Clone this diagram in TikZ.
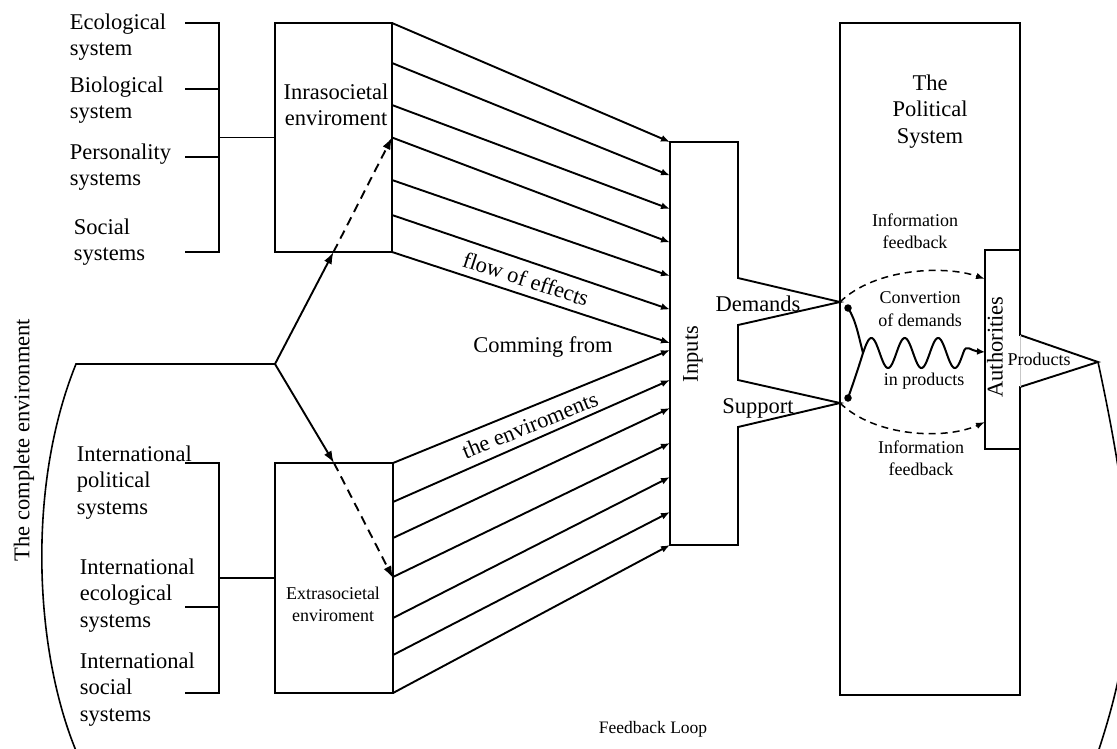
\documentclass[tikz,border=0pt]{standalone}
\usepackage{fontspec}
\setmainfont{Liberation Serif}
\usetikzlibrary{arrows.meta,calc}
\begin{document}
\begin{tikzpicture}[x=1pt,y=-1pt,
  line width=1.9pt,
  box/.style={draw, rectangle, inner sep=0pt, outer sep=0pt},
  frame/.style={rectangle, inner sep=0pt, outer sep=0pt},
  big/.style={font=\fontsize{22.5}{26.5}\selectfont, inner sep=0pt},
  small/.style={font=\fontsize{18}{22.5}\selectfont, inner sep=0pt},
  tiny/.style={font=\fontsize{17.5}{21}\selectfont, inner sep=0pt},
  flow/.style={-{Latex[length=9pt,width=7pt]}},
  push/.style={-{Latex[length=12pt,width=8.5pt]}},
  hint/.style={push, dash pattern=on 9pt off 6pt},
  fb/.style={-{Latex[length=9pt,width=6.5pt]}, line width=1.5pt, dash pattern=on 7pt off 5pt},
  dot/.style={circle, fill, inner sep=0pt, minimum size=7.5pt}
]
\useasboundingbox (0,0) rectangle (1117,748);
\clip (0,0) rectangle (1117,748);

% ---------- environment boxes ----------
\node[box, minimum width=117pt, minimum height=229pt] (intra) at (333.5,137.5) {};
\node[box, minimum width=118pt, minimum height=230pt] (extra) at (334,578) {};
\node[big, align=center, anchor=north] (intralbl) at (336,82.6) {Inrasocietal\\enviroment};
\node[small, align=center, anchor=north] (extralbl) at (333,585.7) {Extrasocietal\\enviroment};

% ---------- intrasocietal sources ----------
\node[big, align=left, anchor=north west] (eco) at (69,12.6) {Ecological\\system};
\node[big, align=left, anchor=north west] (bio) at (69,75.6) {Biological\\system};
\node[big, align=left, anchor=north west] (pers) at (69,142.6) {Personality\\systems};
\node[big, align=left, anchor=north west] (soc) at (73,217.6) {Social\\systems};
\draw (185,23) -- (219,23) -- (219,252) -- (185,252);
\draw (185,89) -- (219,89);
\draw (185,157) -- (219,157);
\draw (219,137.5) -- (intra.west);

% ---------- extrasocietal sources ----------
\node[big, align=left, anchor=north west] (ipol) at (76,444.6) {International\\political\\systems};
\node[big, align=left, anchor=north west] (ieco) at (79,557.6) {International\\ecological\\systems};
\node[big, align=left, anchor=north west] (isoc) at (79,651.6) {International\\social\\systems};
\draw (185,463) -- (219,463) -- (219,693) -- (185,693);
\draw (185,607) -- (219,607);
\draw (219,578) -- (extra.west);

% ---------- inputs ----------
\node[frame, minimum width=68pt, minimum height=403pt] (inputs) at (704,343.5) {};
\coordinate (dem) at (840,302);
\coordinate (sup) at (840,403);
\draw (inputs.south east) -- (inputs.south west) -- (inputs.north west) -- (inputs.north east)
  -- (738,278) -- (dem) -- (738,325) -- (738,380) -- (sup) -- (738,427) -- cycle;
\node[big, rotate=90] (inlbl) at (693,354) {Inputs};
\node[big, anchor=base] (demlbl) at (758,311) {Demands};
\node[big, anchor=base] (suplbl) at (758,413) {Support};

% ---------- flow of effects ----------
\foreach \s/\e in {0/0, 40/33.5, 82/67, 114.5/100.5, 157/134, 192/167.5, 229/201}
  \draw[flow] ($(intra.north east)+(0,\s)$) -- ($(inputs.north west)+(0,\e)$);
\foreach \s/\e in {0/208, 39/238, 75/266, 114/301, 155/335, 192/370, 230/403}
  \draw[flow] ($(extra.north east)+(0,\s)$) -- ($(inputs.north west)+(0,\e)$);
\node[big, rotate=-18] (flowlbl) at (526,279) {flow of effects};
\node[big, anchor=base] (comlbl) at (543,352) {Comming from};
\node[big, rotate=22] (envlbl) at (530,425) {the enviroments};

% ---------- the complete environment ----------
\coordinate (env) at (275,364);
\draw[push] (env) -- (intra.south);
\draw[hint] (intra.south) -- (intra.east);
\draw[push] (env) -- (extra.north);
\draw[hint] (extra.north) -- (extra.east);
\draw[line width=1.6pt] (env) -- (76,364) .. controls (25,490) and (35,660) .. (80,760);
\node[big, rotate=90] (complbl) at (24,440) {The complete environment};

% ---------- political system ----------
\node[frame, minimum width=180pt, minimum height=672pt] (polsys) at (930,359) {};
\node[frame, minimum width=35pt, minimum height=199pt] (auth) at (1002.5,349.5) {};
\coordinate (ptop) at (1020,335);
\coordinate (pbot) at (1020,387);
\coordinate (ptip) at (1098,362);
\draw (ptop) -- (polsys.north east) -- (polsys.north west) -- (polsys.south west)
  -- (polsys.south east) -- (pbot) -- (ptip) -- cycle;
\draw[black!22, line width=0.6pt] (ptop) -- (pbot);
\draw (auth.north east) -- (auth.north west) -- (auth.south west) -- (auth.south east);
\draw[line width=1.6pt] (ptip) .. controls (1145,580) and (1135,650) .. (1085,790);

\node[big, align=center, anchor=north] (title) at (930,73.6) {The\\Political\\System};
\node[big, rotate=90] (authlbl) at (995,347) {Authorities};
\node[small, anchor=base] (prodlbl) at (1039,365) {Products};
\node[small, align=center, anchor=north] (infotop) at (915,212.7) {Information\\feedback};
\node[small, align=center, anchor=north] (infobot) at (921,439.7) {Information\\feedback};
\node[small, align=center, anchor=north] (convlbl) at (920,290.7) {Convertion\\of demands};
\node[small, anchor=base] (inprod) at (924,385) {in products};

% information feedback arcs
\draw[fb] (dem) .. controls (875,268) and (945,265) .. ($(auth.north west)+(0,29)$);
\draw[fb] (sup) .. controls (875,437) and (945,440) .. ($(auth.north west)+(0,172)$);

% conversion of demands into products
\node[dot] (d1) at (848,308) {};
\node[dot] (d2) at (848,398) {};
\coordinate (join) at (863,353);
\draw[line width=2pt] (d1.center) .. controls (856,320) and (859,338) .. (join);
\draw[line width=2pt] (d2.center) .. controls (853,384) and (859,366) .. (join);
\draw[line width=2pt, -{Latex[length=8pt,width=7pt]}]
  plot[domain=0:100.2, samples=121] ({863+\x}, {353-15*sin(10.7784*\x)})
  .. controls (966,343) and (971,351) .. ($(auth.north west)+(0,102)$);

\node[tiny, anchor=base] (looplbl) at (653,733) {Feedback Loop};
\end{tikzpicture}
\end{document}
